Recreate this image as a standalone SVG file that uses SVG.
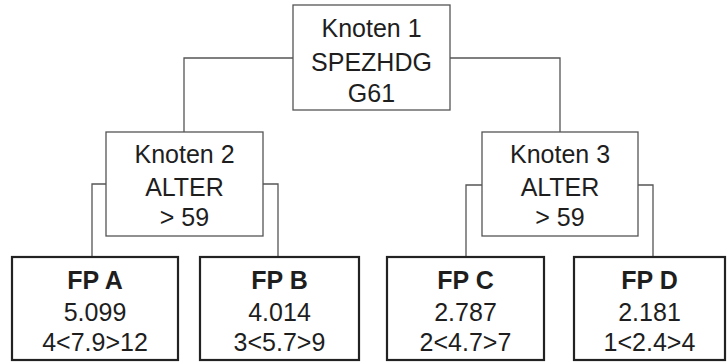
<svg xmlns="http://www.w3.org/2000/svg" width="728" height="362" viewBox="0 0 728 362">
<style>
.n{fill:#fff;stroke:#555;stroke-width:1.3}
.l{fill:#fff;stroke:#222;stroke-width:2.2}
.c{fill:none;stroke:#555;stroke-width:1.3}
text{font-family:"Liberation Sans",Arial,sans-serif;font-size:25px;fill:#1e1e1e;text-anchor:middle}
.b{font-weight:bold}
</style>
<g id="connectors">
<polyline class="c" points="184,132 184,58 293,58"/>
<polyline class="c" points="450,58 560,58 560,132"/>
<polyline class="c" points="106,184 92,184 92,257"/>
<polyline class="c" points="263,184 278,184 278,257"/>
<polyline class="c" points="482,185 466,185 466,257"/>
<polyline class="c" points="638,185 653,185 653,257"/>
</g>
<g id="node1">
<rect class="n" x="293" y="5" width="157" height="105"/>
<text x="371.5" y="37">Knoten 1</text>
<text x="371.5" y="71">SPEZHDG</text>
<text x="371.5" y="102">G61</text>
</g>
<g id="node2">
<rect class="n" x="106" y="132" width="157" height="104"/>
<text x="184.5" y="163">Knoten 2</text>
<text x="184.5" y="196">ALTER</text>
<text x="184.5" y="226">&gt; 59</text>
</g>
<g id="node3">
<rect class="n" x="482" y="132" width="156" height="104"/>
<text x="560" y="163">Knoten 3</text>
<text x="560" y="196">ALTER</text>
<text x="560" y="226">&gt; 59</text>
</g>
<g id="fpA">
<rect class="l" x="12" y="257" width="166" height="103"/>
<text class="b" x="95" y="289">FP A</text>
<text x="95" y="321">5.099</text>
<text x="95" y="351">4&lt;7.9&gt;12</text>
</g>
<g id="fpB">
<rect class="l" x="200" y="257" width="159" height="103"/>
<text class="b" x="279.5" y="289">FP B</text>
<text x="279.5" y="321">4.014</text>
<text x="279.5" y="351">3&lt;5.7&gt;9</text>
</g>
<g id="fpC">
<rect class="l" x="387" y="257" width="157" height="103"/>
<text class="b" x="465.5" y="289">FP C</text>
<text x="465.5" y="321">2.787</text>
<text x="465.5" y="351">2&lt;4.7&gt;7</text>
</g>
<g id="fpD">
<rect class="l" x="574" y="257" width="151" height="103"/>
<text class="b" x="649.5" y="289">FP D</text>
<text x="649.5" y="321">2.181</text>
<text x="649.5" y="351">1&lt;2.4&gt;4</text>
</g>
</svg>
